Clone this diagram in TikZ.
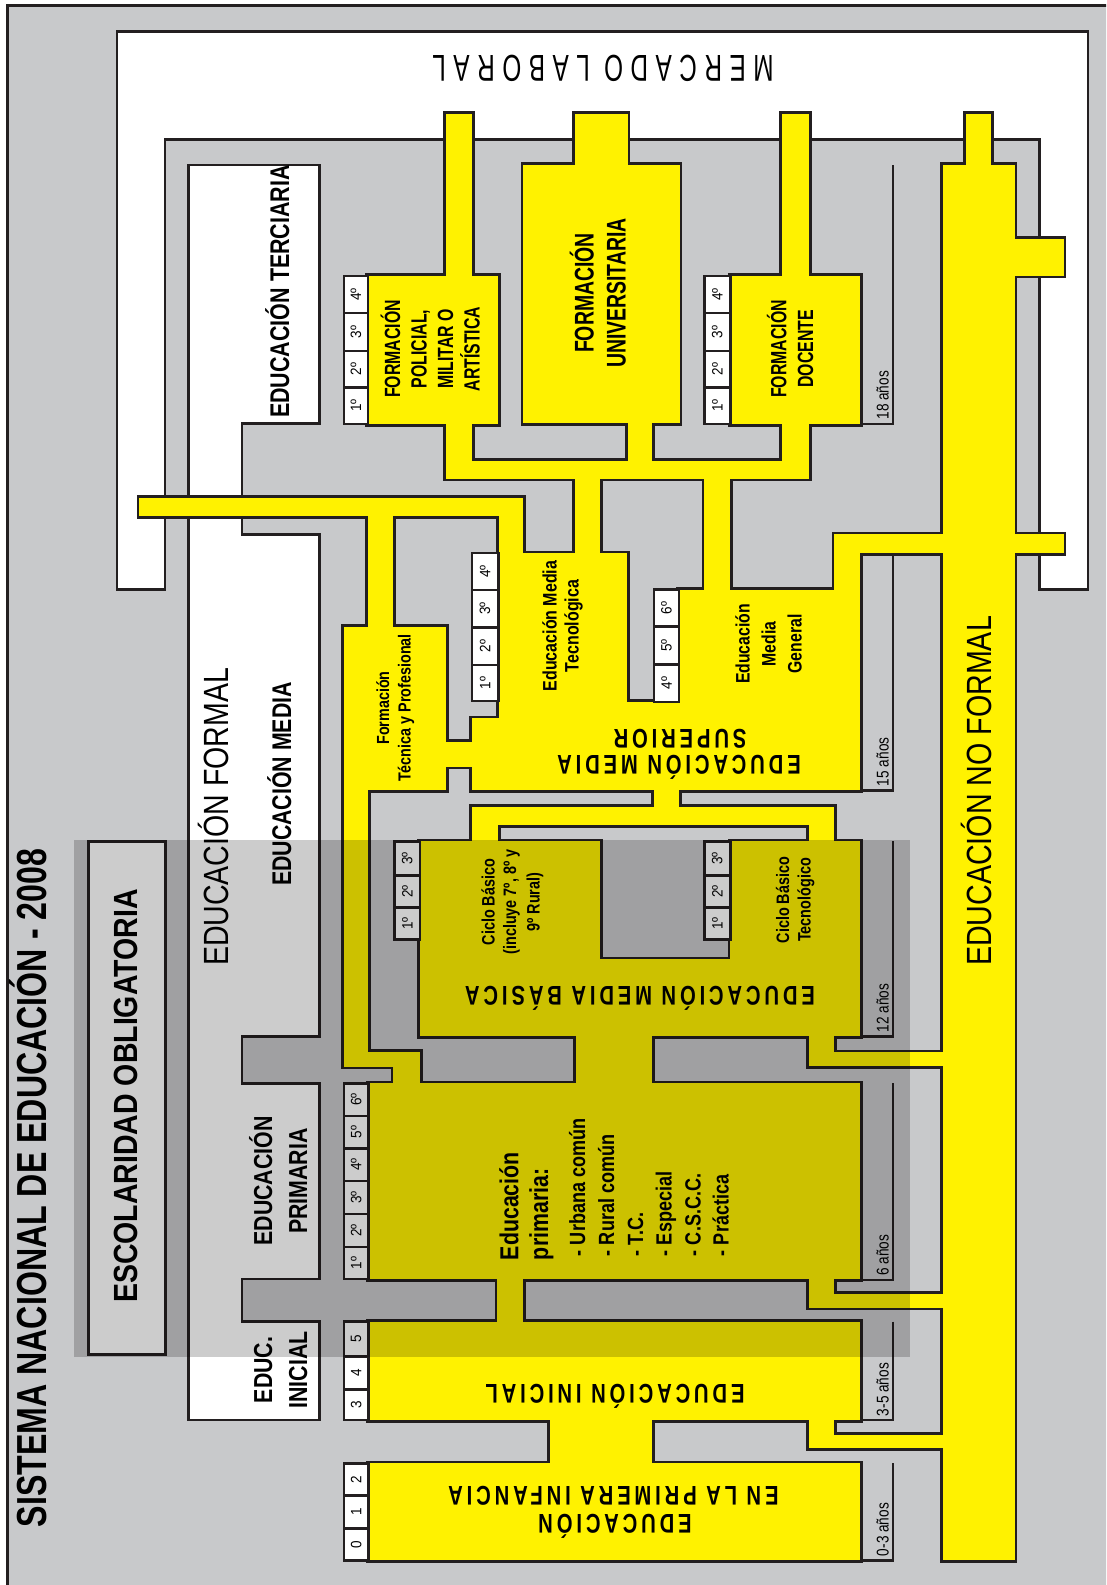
\documentclass[tikz,border=0pt]{standalone}
\usepackage{fontspec}
\setmainfont{Liberation Sans}
\newfontfamily\spcA[LetterSpace=19]{Liberation Sans}
\newfontfamily\spcB[LetterSpace=31]{Liberation Sans}
\definecolor{bg}{RGB}{200,201,203}
\definecolor{yel}{RGB}{255,242,0}
\definecolor{ln}{RGB}{35,31,32}
\newcommand\SC[3]{\scalebox{#2}[1]{\fontsize{#1}{#1}\selectfont #3}}
\def\ylist{445.7/113.6/472.1/276,%
367.9/276/498.2/424,%
445.7/424/472.1/478.6,%
445.7/460.7/809/478.6,%
523.2/165/679.7/423.2,%
575/113.6/627.7/165,%
627.7/423.2/652/460.7,%
730.3/276/860.2/424,%
781.9/113.6/809/276,%
781.9/424/809/460.7,%
942.5/165/1014.7/1560.3,%
966/113.6/991.3/165,%
1014.7/238.6/1063.5/275.7,%
575/478.6/600.3/553.3,%
704.3/478.6/730.3/589.6,%
139.3/497.5/523.2/516,%
367.9/516/392.9/627,%
499/516/523.2/553.3,%
499/553.3/627.3/701.7,%
679/589.6/860.2/790.4,%
834.2/534.3/1063.5/553.2,%
834.2/553.2/860.2/589.6,%
499/701.7/860.2/790.4,%
471.7/718.3/499/790.4,%
446/741.7/471.7/766.7,%
344/627/446/790.4,%
344/790.4/368.3/1066.7,%
344/1051.7/420/1066.7,%
393.3/1066.7/420/1083.4,%
653.7/790.4/679/806.7,%
471.7/806.7/834.2/825.2,%
471.7/825.2/498.3/841.4,%
809/825.2/834.2/841.4,%
420/841.4/600.3/1036.4,%
730.3/841.4/860.2/1036.4,%
600.3/959.3/730.3/1036.4,%
576/1036.4/652/1083.4,%
809/1036.4/834.2/1066,%
809/1052.2/942.5/1066,%
368.3/1083.4/860.2/1279,%
809/1279/834.2/1307.6,%
809/1293.7/942.5/1307.6,%
497.3/1279/523.3/1321.5,%
368.3/1321.5/860.2/1420,%
809/1420/834.2/1448.4,%
809/1434.5/942.5/1448.4,%
549.5/1420/652/1463.4,%
368.3/1463.4/860.2/1560.3}
\def\clist{344/276/367.9/313.2/4º,344/313.2/367.9/351/3º,344/351/367.9/387.5/2º,344/387.5/367.9/424/1º,%
704.3/276/730.3/313.2/4º,704.3/313.2/730.3/351/3º,704.3/351/730.3/387.5/2º,704.3/387.5/730.3/424/1º,%
471.7/552.7/498.3/590/4º,471.7/590/498.3/627.3/3º,471.7/627.3/498.3/665/2º,471.7/665/498.3/700.7/1º,%
654/589.6/679/626.4/6º,654/626.4/679/664.6/5º,654/664.6/679/701.7/4º,%
394.6/841.4/420/875.4/3º,394.6/875.4/420/907.5/2º,394.6/907.5/420/939.6/1º,%
704.3/841.4/730.3/875.4/3º,704.3/875.4/730.3/907.5/2º,704.3/907.5/730.3/939.6/1º,%
344/1083.4/368.3/1116/6º,344/1116/368.3/1148.3/5º,344/1148.3/368.3/1181/4º,344/1181/368.3/1214/3º,344/1214/368.3/1246.7/2º,344/1246.7/368.3/1279/1º,%
344/1321.5/368.3/1356.3/5,344/1356.3/368.3/1389.3/4,344/1389.3/368.3/1420/3,%
344/1463.4/368.3/1495.3/2,344/1495.3/368.3/1528.3/1,344/1528.3/368.3/1560.3/0}
\begin{document}
\begin{tikzpicture}[x=1pt,y=-1pt,
  lbl/.style={inner sep=0pt,outer sep=0pt,anchor=base},
  lblw/.style={inner sep=0pt,outer sep=0pt,anchor=base west},
  ol/.style={draw=ln,line width=2.6pt},
  cell/.style={fill=white,draw=ln,line width=2.4pt},
  agel/.style={draw=ln,line width=2.6pt}]
\useasboundingbox (0,0) rectangle (1106,1585);
\clip (0,0) rectangle (1106,1585);
\fill[white] (0,0) rectangle (1106,1585);
\draw[fill=bg,draw=ln,line width=3.2pt] (7.5,5.4) rectangle (1130,1610);
% Mercado laboral (white U)
\draw[ol,fill=white] (116.8,31.4) -- (1088,31.4) -- (1088,589.6) -- (1039.3,589.6) -- (1039.3,139.3) -- (165,139.3) -- (165,589.6) -- (116.8,589.6) -- cycle;
% Educacion formal column
\draw[ol,fill=white] (188.2,165) -- (319.6,165) -- (319.6,423.2) -- (242.1,423.2) -- (242.1,534.2) -- (319.6,534.2) -- (319.6,1036.4) -- (242.1,1036.4) -- (242.1,1083.4) -- (319.6,1083.4) -- (319.6,1279) -- (242.1,1279) -- (242.1,1321.5) -- (319.6,1321.5) -- (319.6,1420) -- (188.2,1420) -- cycle;
% Escolaridad obligatoria box
\draw[ol,fill=white] (88.6,841.4) rectangle (165.4,1354.6);
% age lines
\draw[agel] (893.1,165) -- (893.1,424) -- (860.2,424);
\draw[agel] (893.1,553.2) -- (893.1,790.4) -- (860.2,790.4);
\draw[agel] (893.1,841.4) -- (893.1,1036.4) -- (860.2,1036.4);
\draw[agel] (893.1,1083.4) -- (893.1,1279.8) -- (834.2,1279.8);
\draw[agel] (893.1,1321.5) -- (893.1,1420) -- (834.2,1420);
\draw[agel] (893.1,1463.4) -- (893.1,1560.3) -- (860.2,1560.3);
% yellow network: outline pass then fill pass
\foreach \a/\b/\c/\d in \ylist {\draw[ln,line width=5.2pt] (\a,\b) rectangle (\c,\d);}
\foreach \a/\b/\c/\d in \ylist {\fill[yel] (\a,\b) rectangle (\c,\d);}
% year cells
\foreach \xa/\ya/\xb/\yb/\t [count=\i] in \clist {
  \draw[cell] (\xa,\ya) rectangle (\xb,\yb);
  \node[rotate=90,inner sep=0pt,font=\fontsize{15}{15}\selectfont] (yc\i) at ({(\xa+\xb)/2},{(\ya+\yb)/2}) {\scalebox{0.9}[1]{\t}};
}
% ages
\node[lblw,rotate=90] (a18) at (888.5,419.5) {\SC{17}{0.8}{18 años}};
\node[lblw,rotate=90] (a15) at (888.5,786) {\SC{17}{0.8}{15 años}};
\node[lblw,rotate=90] (a12) at (888.5,1032) {\SC{17}{0.8}{12 años}};
\node[lblw,rotate=90] (a6) at (888.5,1275.5) {\SC{17}{0.8}{6 años}};
\node[lblw,rotate=90] (a35) at (888.5,1416) {\SC{17}{0.8}{3-5 años}};
\node[lblw,rotate=90] (a03) at (888.5,1556) {\SC{17}{0.8}{0-3 años}};
% big labels
\node[lbl,rotate=90,font=\bfseries] (title) at (46,1188) {\SC{42}{0.765}{SISTEMA NACIONAL DE EDUCACIÓN - 2008}};
\node[lbl,rotate=90,font=\bfseries] (esc) at (137.5,1096) {\SC{33.5}{0.85}{ESCOLARIDAD OBLIGATORIA}};
\node[lbl,rotate=90] (ef) at (228.6,817) {\SC{35}{0.815}{EDUCACIÓN FORMAL}};
\node[lbl,rotate=90] (enf) at (991,791) {\SC{35}{0.818}{EDUCACIÓN NO FORMAL}};
\node[lbl,rotate=90,font=\bfseries] (eter) at (289,291.5) {\SC{27}{0.795}{EDUCACIÓN TERCIARIA}};
\node[lbl,rotate=90,font=\bfseries] (emed) at (291,784) {\SC{27}{0.79}{EDUCACIÓN MEDIA}};
\node[lbl,rotate=90,font=\bfseries] (ep1) at (272,1181) {\SC{26}{0.82}{EDUCACIÓN}};
\node[lbl,rotate=90,font=\bfseries] (ep2) at (307,1181) {\SC{26}{0.82}{PRIMARIA}};
\node[lbl,rotate=90,font=\bfseries] (ei1) at (272,1370) {\SC{26}{0.82}{EDUC.}};
\node[lbl,rotate=90,font=\bfseries] (ei2) at (307,1370) {\SC{26}{0.82}{INICIAL}};
\node[lbl,rotate=180] (ml) at (603,55.4) {\spcB\SC{37.4}{0.65}{MERCADO LABORAL}};
% spaced upside-down labels
\node[lbl,rotate=180,font=\bfseries] (ems1) at (679,755.7) {\spcA\bfseries\SC{27}{0.75}{EDUCACIÓN MEDIA}};
\node[lbl,rotate=180,font=\bfseries] (ems2) at (680,729) {\spcA\bfseries\SC{27}{0.75}{SUPERIOR}};
\node[lbl,rotate=180,font=\bfseries] (emb) at (640,986.5) {\spcA\bfseries\SC{27}{0.75}{EDUCACIÓN MEDIA BÁSICA}};
\node[lbl,rotate=180,font=\bfseries] (einic) at (615,1384) {\spcA\bfseries\SC{27}{0.75}{EDUCACIÓN INICIAL}};
\node[lbl,rotate=180,font=\bfseries] (pi1) at (615,1514.4) {\spcA\bfseries\SC{27}{0.75}{EDUCACIÓN}};
\node[lbl,rotate=180,font=\bfseries] (pi2) at (613.4,1486.6) {\spcA\bfseries\SC{27}{0.75}{EN LA PRIMERA INFANCIA}};
% tertiary
\node[lbl,rotate=90,font=\bfseries] (fp1) at (400,349) {\SC{22}{0.72}{FORMACIÓN}};
\node[lbl,rotate=90,font=\bfseries] (fp2) at (426.5,349) {\SC{22}{0.72}{POLICIAL,}};
\node[lbl,rotate=90,font=\bfseries] (fp3) at (453,349) {\SC{22}{0.72}{MILITAR O}};
\node[lbl,rotate=90,font=\bfseries] (fp4) at (479.5,349) {\SC{22}{0.72}{ARTÍSTICA}};
\node[lbl,rotate=90,font=\bfseries] (fu1) at (593.6,293) {\SC{27}{0.72}{FORMACIÓN}};
\node[lbl,rotate=90,font=\bfseries] (fu2) at (625.7,293) {\SC{27}{0.72}{UNIVERSITARIA}};
\node[lbl,rotate=90,font=\bfseries] (fd1) at (786.4,349) {\SC{22}{0.72}{FORMACIÓN}};
\node[lbl,rotate=90,font=\bfseries] (fd2) at (813,349) {\SC{22}{0.72}{DOCENTE}};
% media superior
\node[lbl,rotate=90,font=\bfseries] (emt1) at (556.7,626) {\SC{19.5}{0.82}{Educación Media}};
\node[lbl,rotate=90,font=\bfseries] (emt2) at (578.5,626) {\SC{19.5}{0.82}{Tecnológica}};
\node[lbl,rotate=90,font=\bfseries] (emg1) at (749.5,644) {\SC{19.5}{0.81}{Educación}};
\node[lbl,rotate=90,font=\bfseries] (emg2) at (775.5,644) {\SC{19.5}{0.81}{Media}};
\node[lbl,rotate=90,font=\bfseries] (emg3) at (801.5,644) {\SC{19.5}{0.81}{General}};
\node[lbl,rotate=90,font=\bfseries] (ftp1) at (389,708) {\SC{17.5}{0.82}{Formación}};
\node[lbl,rotate=90,font=\bfseries] (ftp2) at (410.5,708) {\SC{17.5}{0.82}{Técnica y Profesional}};
% media basica
\node[lbl,rotate=90,font=\bfseries] (cb1) at (494.6,902) {\SC{18}{0.8}{Ciclo Básico}};
\node[lbl,rotate=90,font=\bfseries] (cb2) at (516,902) {\SC{18}{0.8}{(incluye 7º, 8º y}};
\node[lbl,rotate=90,font=\bfseries] (cb3) at (539.5,902) {\SC{18}{0.8}{9º Rural)}};
\node[lbl,rotate=90,font=\bfseries] (cbt1) at (789,900) {\SC{18}{0.8}{Ciclo Básico}};
\node[lbl,rotate=90,font=\bfseries] (cbt2) at (810.5,900) {\SC{18}{0.8}{Tecnológico}};
% primaria
\node[lblw,rotate=90,font=\bfseries] (pr1) at (518.3,1260) {\SC{26}{0.82}{Educación}};
\node[lblw,rotate=90,font=\bfseries] (pr2) at (548,1260) {\SC{26}{0.82}{primaria:}};
\node[lblw,rotate=90,font=\bfseries] (pr3) at (585,1256) {\SC{22}{0.82}{- Urbana común}};
\node[lblw,rotate=90,font=\bfseries] (pr4) at (614,1256) {\SC{22}{0.82}{- Rural común}};
\node[lblw,rotate=90,font=\bfseries] (pr5) at (643,1256) {\SC{22}{0.82}{- T.C.}};
\node[lblw,rotate=90,font=\bfseries] (pr6) at (671.5,1256) {\SC{22}{0.82}{- Especial}};
\node[lblw,rotate=90,font=\bfseries] (pr7) at (700.5,1256) {\SC{22}{0.82}{- C.S.C.C.}};
\node[lblw,rotate=90,font=\bfseries] (pr8) at (728.5,1256) {\SC{22}{0.82}{- Práctica}};
% compulsory schooling overlay
\fill[black,opacity=0.2] (74.3,840.4) rectangle (910,1357);
\end{tikzpicture}
\end{document}
